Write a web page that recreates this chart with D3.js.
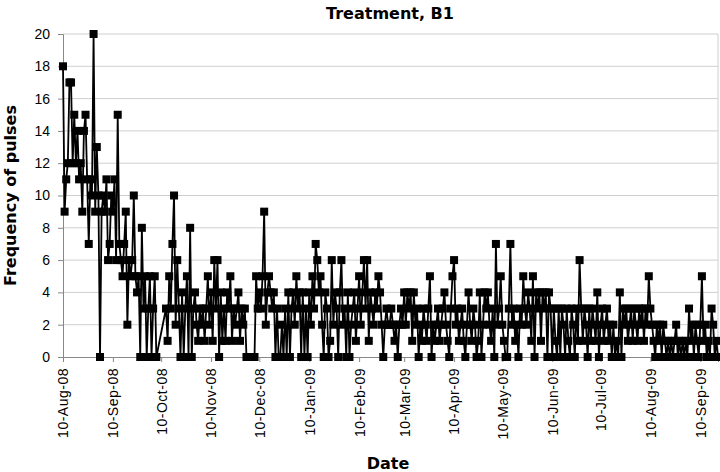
<!DOCTYPE html>
<html>
<head>
<meta charset="utf-8">
<script src="https://cdn.jsdelivr.net/npm/d3@7"></script>
<style>
  html, body { margin: 0; padding: 0; background: #fff; }
  svg { display: block; }
</style>
</head>
<body>
<svg id="chart" width="720" height="472"></svg>
<script>
// ---- data ----
const chartTitle = "Treatment, B1";
const xTitle = "Date";
const yTitle = "Frequency of pulses";
const startDate = "2008-08-10";   // first daily observation
const endDate = "2009-09-21";     // end of the date axis
// daily counts, one per day from startDate (null = no recording that day)
const pulses = [
  18,9,11,12,17,17,12,15,12,14,
  11,12,9,14,15,11,7,11,10,20,
  9,13,10,0,9,10,9,11,6,7,
  10,9,11,6,15,7,6,5,7,9,
  2,6,5,6,10,5,4,5,0,8,
  3,5,0,3,5,0,3,5,0,
  null,null,null,null,null,
  3,1,5,3,7,10,2,6,3,0,
  4,0,3,5,0,8,0,3,4,2,
  1,3,2,3,1,3,5,2,4,1,
  6,3,6,0,4,1,3,1,4,3,
  5,1,3,2,3,4,1,3,2,3,
  0,0,0,0,0,0,5,3,4,3,
  5,9,
  2,4,5,4,3,4,0,3,0,0,
  2,0,3,0,4,0,3,4,2,5,
  3,4,0,4,0,3,0,4,2,5,
  3,7,6,4,5,2,0,4,3,0,
  1,6,2,4,3,0,4,6,2,3,
  0,4,0,2,3,4,
  1,3,5,2,4,6,3,6,1,4,
  3,2,4,3,5,4,2,0,2,3,
  2,2,3,2,1,2,0,2,3,2,
  4,2,4,3,4,1,4,2,3,
  0,2,1,3,2,1,3,5,0,2,
  1,2,3,1,2,3,4,2,1,0,
  3,5,6,2,3,1,2,3,1,0,
  2,4,2,1,3,2,0,1,4,0,
  2,4,3,4,2,1,3,0,7,2,
  3,5,2,1,0,0,3,7,2,3,
  1,2,0,3,2,5,3,2,4,3,
  1,5,0,
  4,3,4,1,4,3,4,0,4,3,
  0,3,1,0,3,0,3,2,0,3,
  1,0,3,2,0,3,1,6,3,1,
  3,2,0,3,1,3,2,1,4,0,
  2,3,1,2,3,1,2,0,2,0,
  1,0,4,0,3,2,3,1,2,3,
  1,3,2,1,3,2,3,1,3,2,
  5,3,2,1,0,
  2,1,2,0,2,1,0,1,0,1,
  0,1,2,0,1,0,1,0,1,0,
  3,1,2,0,2,1,0,2,5,1,
  2,0,1,0,3,2,0,1,0
];
const yTicks = [0,2,4,6,8,10,12,14,16,18,20];
const xTickLabels = ["10-Aug-08","10-Sep-08","10-Oct-08","10-Nov-08","10-Dec-08","10-Jan-09",
  "10-Feb-09","10-Mar-09","10-Apr-09","10-May-09","10-Jun-09","10-Jul-09","10-Aug-09","10-Sep-09"];

// ---- layout ----
const svg = d3.select("#chart");
const plot = { left: 63, right: 718, top: 34, bottom: 357 };

const parseISO = d3.utcParse("%Y-%m-%d");
const parseTick = d3.utcParse("%d-%b-%y");
const t0 = parseISO(startDate);
const t1 = parseISO(endDate);

const data = pulses.map((v, i) => ({ date: d3.utcDay.offset(t0, i), value: v }))
                   .filter(d => d.value !== null);

const x = d3.scaleUtc().domain([t0, t1]).range([plot.left, plot.right]);
const y = d3.scaleLinear().domain([0, 20]).range([plot.bottom, plot.top]);

// gridlines
svg.append("g")
  .selectAll("line")
  .data(yTicks.filter(t => t > 0))
  .join("line")
  .attr("x1", plot.left).attr("x2", plot.right)
  .attr("y1", d => y(d)).attr("y2", d => y(d))
  .attr("stroke", "#cfcfcf").attr("stroke-width", 1);

// right border
svg.append("line")
  .attr("x1", plot.right).attr("x2", plot.right)
  .attr("y1", plot.top).attr("y2", plot.bottom)
  .attr("stroke", "#cfcfcf");

// y axis
const yAxis = svg.append("g")
  .attr("transform", `translate(${plot.left},0)`)
  .call(d3.axisLeft(y).tickValues(yTicks).tickSize(5).tickPadding(8).tickFormat(d3.format("d")));
yAxis.select(".domain").attr("stroke", "#888");
yAxis.selectAll(".tick line").attr("stroke", "#888");
yAxis.selectAll("text")
  .attr("font-family", "'Liberation Sans', Arial, sans-serif")
  .attr("font-size", 14).attr("fill", "#000");

// x axis
const xTickDates = xTickLabels.map(s => parseTick(s));
const xAxis = svg.append("g")
  .attr("transform", `translate(0,${plot.bottom})`)
  .call(d3.axisBottom(x).tickValues(xTickDates).tickSize(5)
        .tickFormat((d, i) => xTickLabels[i]));
xAxis.select(".domain").attr("stroke", "#888");
xAxis.selectAll(".tick line").attr("stroke", "#888");
xAxis.selectAll("text")
  .attr("font-family", "'Liberation Sans', Arial, sans-serif")
  .attr("font-size", 14).attr("fill", "#000")
  .attr("letter-spacing", 0.5)
  .attr("text-anchor", "end")
  .attr("dy", "0.35em")
  .attr("transform", "translate(0,11) rotate(-90)")
  .attr("x", 0).attr("y", 0);

// series line
const line = d3.line().x(d => x(d.date)).y(d => y(d.value));
svg.append("path")
  .datum(data)
  .attr("d", line)
  .attr("fill", "none")
  .attr("stroke", "#000")
  .attr("stroke-width", 1.8)
  .attr("stroke-linejoin", "miter");

// markers
const ms = 8;
svg.append("g")
  .selectAll("rect")
  .data(data)
  .join("rect")
  .attr("x", d => x(d.date) - ms / 2)
  .attr("y", d => y(d.value) - ms / 2)
  .attr("width", ms).attr("height", ms)
  .attr("fill", "#000");

// titles
const titleFont = "'DejaVu Sans', Verdana, sans-serif";
svg.append("text")
  .attr("x", 390).attr("y", 19)
  .attr("text-anchor", "middle")
  .attr("font-family", titleFont).attr("font-weight", "bold").attr("font-size", 16)
  .text(chartTitle);

svg.append("text")
  .attr("x", 388).attr("y", 469)
  .attr("text-anchor", "middle")
  .attr("font-family", titleFont).attr("font-weight", "bold").attr("font-size", 16)
  .text(xTitle);

svg.append("text")
  .attr("transform", `translate(16,${(plot.top + plot.bottom) / 2}) rotate(-90)`)
  .attr("text-anchor", "middle")
  .attr("font-family", titleFont).attr("font-weight", "bold").attr("font-size", 16)
  .text(yTitle);
</script>
</body>
</html>
